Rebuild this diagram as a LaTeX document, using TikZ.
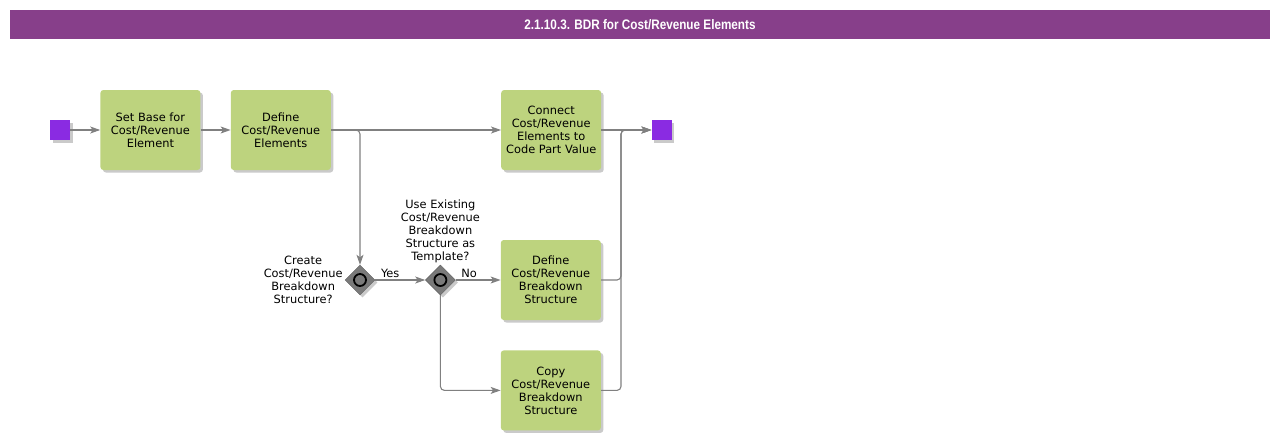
\documentclass[tikz,border=0pt]{standalone}
\usepackage{xcolor}
\usepackage{fontspec}
\setmainfont{DejaVu Sans}
\newfontfamily\titlefont[FakeStretch=0.85]{Liberation Sans}
\usetikzlibrary{
    arrows.meta,
    positioning,
    shapes.geometric,
    shadows
}

\definecolor{barpurple}{HTML}{873F8A}
\definecolor{taskgreen}{HTML}{BDD37E}
\definecolor{eventviolet}{HTML}{8A2BE2}
\definecolor{flowgray}{HTML}{808080}
\definecolor{gategray}{HTML}{7A7A7A}

\begin{document}
\begin{tikzpicture}[
    x=1pt, y=1pt,
    node distance=30pt,
    softshadow/.style={
        drop shadow={shadow xshift=2.5pt, shadow yshift=-2.5pt,
            fill=black!35, opacity=0.6}
    },
    box/.style={
        fill=taskgreen,
        rounded corners=3pt,
        minimum width=100pt,
        minimum height=80pt,
        inner sep=0pt,
        align=center,
        font=\fontsize{11.4}{13}\selectfont,
        softshadow
    },
    event/.style={
        fill=eventviolet,
        minimum size=20pt,
        inner sep=0pt,
        softshadow
    },
    gateway/.style={
        diamond,
        fill=gategray,
        draw=gategray!80!black,
        minimum width=30pt,
        minimum height=30pt,
        inner sep=0pt,
        softshadow,
        path picture={
            \draw[draw=black, line width=1.8pt, fill=gategray]
            (path picture bounding box.center) circle (6pt);
        }
    },
    lbl/.style={
        align=center,
        inner sep=2pt,
        font=\fontsize{11.4}{13}\selectfont
    },
    flow/.style={
        draw=flowgray,
        line width=1.1pt,
        rounded corners=4pt,
        -{Stealth[length=10pt, width=7pt, inset=2.5pt, fill=flowgray]}
    }
]

\useasboundingbox (0,0) rectangle (1280,-440);

% title bar
\node[fill=barpurple, minimum width=1260pt, minimum height=29pt,
      text=white, font=\titlefont\bfseries\fontsize{13.8}{16}\selectfont]
      (title) at (640,-24.5)
      {2.1.10.3. BDR for Cost/Revenue Elements};

% main row
\node[event] (start) at (60,-130) {};

\node[box, right=30pt of start] (setbase)
{Set Base for\\Cost/Revenue\\Element};

\node[box, right=30pt of setbase] (defelem)
{Define\\Cost/Revenue\\Elements};

\node[box, right=170pt of defelem] (connect)
{Connect\\Cost/Revenue\\Elements to\\Code Part Value};

\node[event, right=50pt of connect] (endev) {};

% breakdown structure branch
\node[gateway] (create) at (360,-280) {};
\node[lbl, left=0pt of create] (createlbl)
{Create\\Cost/Revenue\\Breakdown\\Structure?};

\node[gateway, right=50pt of create] (useexist) {};
\node[lbl, above=0pt of useexist] (useexistlbl)
{Use Existing\\Cost/Revenue\\Breakdown\\Structure as\\Template?};

\node[box, right=45pt of useexist] (defbds)
{Define\\Cost/Revenue\\Breakdown\\Structure};

\node[box, below=30pt of defbds] (copybds)
{Copy\\Cost/Revenue\\Breakdown\\Structure};

\coordinate (join) at (621,-130);

\draw[flow] (start) -- (setbase);
\draw[flow] (setbase) -- (defelem);
\draw[flow] (defelem) -- (connect);
\draw[flow] (connect) -- (endev);
\draw[flow] (defelem.east) -| (create.north);
\draw[flow] (create) -- node[lbl, above, pos=0.3]{Yes} (useexist);
\draw[flow] (useexist) -- node[lbl, above, pos=0.3]{No} (defbds);
\draw[flow] (useexist) |- (copybds);
\draw[flow] (defbds.east) -| (join) -- (endev);
\draw[flow] (copybds.east) -| (join) -- (endev);

\end{tikzpicture}
\end{document}
